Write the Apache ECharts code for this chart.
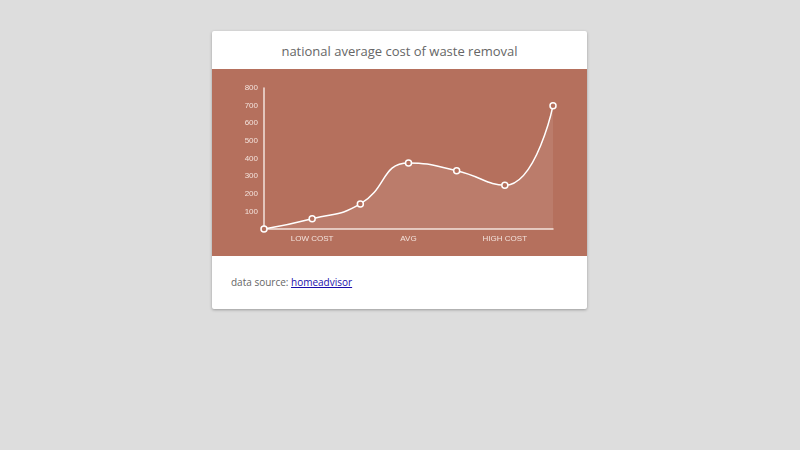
<!DOCTYPE html>
<html><head><meta charset="utf-8">
<script src="https://cdn.jsdelivr.net/npm/echarts@6/dist/echarts.min.js"></script>
<style>
body{margin:0;background:#dddddd;font-family:"Open Sans",sans-serif;}
.card{position:absolute;left:212px;top:31px;width:375px;height:278px;background:#fff;box-shadow:0 1px 3px rgba(0,0,0,.3);border-radius:2px;}
.title{position:absolute;top:11px;width:100%;text-align:center;color:#666;font-size:13px;}
#chart{position:absolute;left:0;top:38px;width:375px;height:187px;background:#b5705d;}
.src{position:absolute;left:19px;top:244px;font-size:10px;color:#666;}
.src a{color:#1a0dab;}
</style></head><body>
<div class="card">
<div class="title">national average cost of waste removal</div>
<div id="chart"></div>
<div class="src">data source: <a href="#">homeadvisor</a></div>
</div>
<script>
const categories = ['', 'LOW COST', '', 'AVG', '', 'HIGH COST', ''];
const costs = [0, 58, 142, 375, 330, 248, 700];
const yTicks = [100, 200, 300, 400, 500, 600, 700, 800];

const lbl = {color: '#f3e2dc', fontSize: 8, fontFamily: 'Liberation Sans'};
echarts.init(document.getElementById('chart')).setOption({
  animation: false,
  grid: {left: 52, right: 34, top: 19, bottom: 27},
  xAxis: {
    type: 'category', boundaryGap: false, data: categories,
    axisLine: {lineStyle: {color: '#f3e2dc', width: 1.5}},
    axisTick: {show: false},
    axisLabel: Object.assign({interval: 0, margin: 6}, lbl)
  },
  yAxis: {
    type: 'value', min: 0, max: 800, interval: 100,
    splitLine: {show: false},
    axisLine: {show: true, lineStyle: {color: '#f3e2dc', width: 1.5}},
    axisLabel: Object.assign({margin: 6, formatter: v => yTicks.includes(v) ? v : ''}, lbl)
  },
  series: [{
    type: 'line', data: costs, smooth: 0.5,
    symbol: 'circle', symbolSize: 6,
    itemStyle: {color: '#b5705d', borderColor: '#fff', borderWidth: 1.5},
    lineStyle: {color: '#fff', width: 1.5},
    areaStyle: {color: 'rgba(255,255,255,0.12)'}
  }]
});
</script>
</body></html>
